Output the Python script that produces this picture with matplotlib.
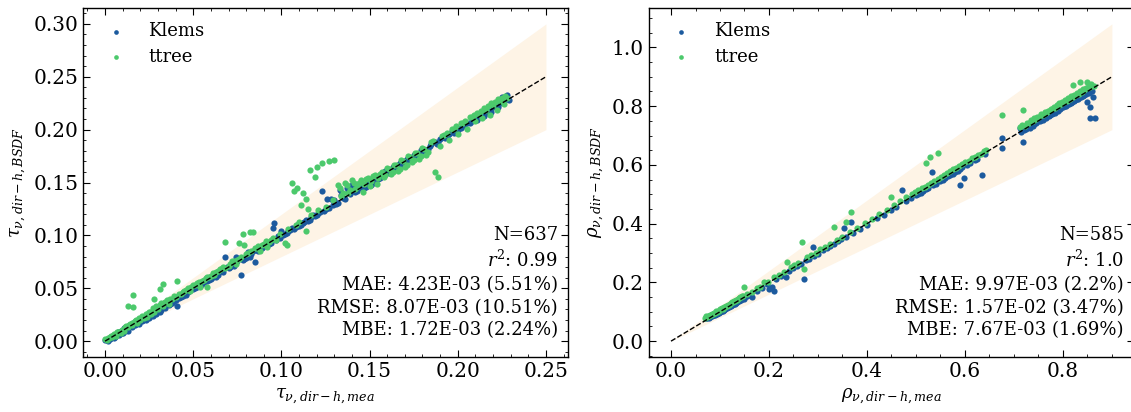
import matplotlib
matplotlib.use("Agg")
import matplotlib.pyplot as plt
import numpy as np

# ---- transmittance panel (tau) ----
klems_tau_mea = [0.000, 0.002, 0.003, 0.004, 0.005, 0.006, 0.007, 0.008, 0.009, 0.010,
                 0.011, 0.012, 0.013, 0.014, 0.015, 0.016, 0.017, 0.018, 0.019, 0.020,
                 0.021, 0.022, 0.023, 0.024, 0.025, 0.026, 0.027, 0.028, 0.029, 0.030,
                 0.031, 0.033, 0.034, 0.035, 0.037, 0.039, 0.041, 0.042, 0.044, 0.046,
                 0.048, 0.050, 0.052, 0.054, 0.056, 0.058, 0.060, 0.062, 0.064, 0.066,
                 0.068, 0.070, 0.072, 0.074, 0.077, 0.078, 0.080, 0.081, 0.083, 0.085,
                 0.086, 0.088, 0.090, 0.092, 0.094, 0.095, 0.096, 0.097, 0.099, 0.100,
                 0.101, 0.103, 0.105, 0.107, 0.109, 0.111, 0.113, 0.115, 0.117, 0.119,
                 0.121, 0.123, 0.124, 0.126, 0.127, 0.128, 0.129, 0.131, 0.133, 0.135,
                 0.137, 0.139, 0.140, 0.142, 0.144, 0.146, 0.148, 0.150, 0.152, 0.154,
                 0.156, 0.158, 0.160, 0.162, 0.164, 0.166, 0.168, 0.170, 0.172, 0.174,
                 0.176, 0.178, 0.180, 0.183, 0.185, 0.188, 0.190, 0.193, 0.195, 0.198,
                 0.200, 0.203, 0.205, 0.208, 0.210, 0.212, 0.214, 0.216, 0.218, 0.220,
                 0.222, 0.224, 0.226, 0.228, 0.225]
klems_tau_bsdf = [0.001, 0.002, 0.002, 0.005, 0.003, 0.006, 0.008, 0.006, 0.010, 0.008,
                  0.012, 0.011, 0.010, 0.015, 0.013, 0.017, 0.015, 0.018, 0.016, 0.021,
                  0.019, 0.023, 0.020, 0.025, 0.022, 0.027, 0.024, 0.029, 0.026, 0.031,
                  0.028, 0.034, 0.031, 0.036, 0.035, 0.038, 0.033, 0.041, 0.043, 0.044,
                  0.048, 0.049, 0.051, 0.052, 0.056, 0.057, 0.059, 0.062, 0.063, 0.066,
                  0.080, 0.069, 0.074, 0.080, 0.063, 0.077, 0.079, 0.084, 0.082, 0.075,
                  0.086, 0.087, 0.090, 0.091, 0.093, 0.107, 0.112, 0.096, 0.098, 0.104,
                  0.100, 0.102, 0.105, 0.106, 0.110, 0.110, 0.113, 0.114, 0.117, 0.118,
                  0.121, 0.142, 0.123, 0.134, 0.126, 0.134, 0.129, 0.130, 0.143, 0.135,
                  0.145, 0.139, 0.148, 0.141, 0.145, 0.147, 0.146, 0.151, 0.150, 0.155,
                  0.154, 0.158, 0.160, 0.162, 0.163, 0.167, 0.168, 0.170, 0.172, 0.173,
                  0.176, 0.177, 0.180, 0.182, 0.186, 0.186, 0.191, 0.192, 0.196, 0.197,
                  0.200, 0.203, 0.206, 0.208, 0.210, 0.212, 0.215, 0.216, 0.218, 0.221,
                  0.222, 0.225, 0.227, 0.233, 0.231]
klems_tau_mea_2 = [0.0015, 0.0035, 0.0055, 0.0075, 0.0095, 0.0115, 0.0135, 0.0155, 0.0175, 0.0195,
                   0.0215, 0.0235, 0.0255, 0.0275, 0.0295, 0.032, 0.036, 0.038, 0.040,
                   0.043, 0.045, 0.047, 0.049, 0.051, 0.053, 0.055, 0.057, 0.059, 0.061,
                   0.063, 0.065, 0.067, 0.069, 0.071, 0.073, 0.075,
                   0.079, 0.082, 0.084, 0.087, 0.089, 0.091, 0.093, 0.098,
                   0.102, 0.104, 0.106, 0.108, 0.110, 0.112, 0.114, 0.116, 0.118, 0.120, 0.122,
                   0.125, 0.130, 0.132, 0.134, 0.136, 0.138,
                   0.141, 0.143, 0.145, 0.147, 0.149, 0.151, 0.153, 0.155, 0.157, 0.159,
                   0.161, 0.163, 0.165, 0.167, 0.169, 0.171, 0.173, 0.175, 0.177, 0.179, 0.181,
                   0.184, 0.187, 0.189, 0.192, 0.194, 0.197, 0.199, 0.202, 0.204, 0.207, 0.209,
                   0.211, 0.213, 0.215, 0.217, 0.219, 0.221, 0.223, 0.227, 0.229]
klems_tau_bsdf_2 = [0.0005, 0.004, 0.004, 0.009, 0.008, 0.010, 0.014, 0.014, 0.016, 0.019,
                    0.020, 0.022, 0.024, 0.026, 0.028, 0.029, 0.034, 0.036, 0.039,
                    0.042, 0.045, 0.046, 0.050, 0.050, 0.054, 0.054, 0.058, 0.058, 0.061,
                    0.061, 0.066, 0.065, 0.070, 0.070, 0.071, 0.076,
                    0.078, 0.080, 0.085, 0.085, 0.088, 0.092, 0.092, 0.099,
                    0.101, 0.104, 0.107, 0.108, 0.109, 0.112, 0.115, 0.115, 0.119, 0.119, 0.122,
                    0.125, 0.133, 0.131, 0.138, 0.134, 0.141,
                    0.143, 0.142, 0.147, 0.145, 0.150, 0.148, 0.154, 0.153, 0.157, 0.161,
                    0.159, 0.165, 0.163, 0.168, 0.167, 0.172, 0.171, 0.176, 0.175, 0.181, 0.180,
                    0.185, 0.188, 0.188, 0.193, 0.193, 0.199, 0.198, 0.202, 0.205, 0.206, 0.211,
                    0.209, 0.214, 0.213, 0.218, 0.217, 0.222, 0.221, 0.230, 0.228]

ttree_tau_mea = [0.000, 0.001, 0.002, 0.003, 0.004, 0.005, 0.006, 0.007, 0.008, 0.009,
                 0.010, 0.011, 0.012, 0.013, 0.013, 0.014, 0.015, 0.016, 0.016, 0.017,
                 0.018, 0.019, 0.020, 0.021, 0.022, 0.023, 0.024, 0.025, 0.026, 0.027,
                 0.028, 0.028, 0.029, 0.030, 0.031, 0.031, 0.032, 0.033, 0.033, 0.034,
                 0.035, 0.036, 0.038, 0.040, 0.041, 0.042, 0.044, 0.046, 0.048, 0.050,
                 0.052, 0.054, 0.056, 0.058, 0.058, 0.060, 0.062, 0.064, 0.066, 0.068,
                 0.068, 0.070, 0.072, 0.074, 0.076, 0.076, 0.078, 0.079, 0.080, 0.082,
                 0.083, 0.084, 0.086, 0.088, 0.090, 0.092, 0.094, 0.097, 0.099, 0.102,
                 0.103, 0.104, 0.106, 0.107, 0.108, 0.109, 0.110, 0.111, 0.112, 0.114,
                 0.114, 0.115, 0.116, 0.117, 0.119, 0.120, 0.121, 0.123, 0.125, 0.127,
                 0.129, 0.130, 0.132, 0.134, 0.136, 0.138, 0.140, 0.142, 0.144, 0.146,
                 0.148, 0.150, 0.152, 0.154, 0.156, 0.158, 0.160, 0.162, 0.164, 0.166,
                 0.168, 0.170, 0.172, 0.174, 0.176, 0.178, 0.180, 0.182, 0.185, 0.187,
                 0.189, 0.190, 0.192, 0.195, 0.198, 0.200, 0.203, 0.205, 0.208, 0.210,
                 0.212, 0.214, 0.216, 0.218, 0.220, 0.222, 0.224, 0.226, 0.228]
ttree_tau_bsdf = [0.002, 0.001, 0.003, 0.004, 0.004, 0.007, 0.005, 0.009, 0.009, 0.008,
                  0.011, 0.010, 0.014, 0.033, 0.013, 0.016, 0.015, 0.044, 0.032, 0.019,
                  0.017, 0.021, 0.020, 0.024, 0.022, 0.026, 0.023, 0.028, 0.026, 0.031,
                  0.040, 0.028, 0.033, 0.030, 0.049, 0.034, 0.036, 0.054, 0.033, 0.037,
                  0.039, 0.035, 0.040, 0.042, 0.057, 0.045, 0.046, 0.048, 0.047, 0.053,
                  0.055, 0.051, 0.058, 0.051, 0.061, 0.062, 0.063, 0.066, 0.068, 0.094,
                  0.069, 0.071, 0.076, 0.073, 0.093, 0.078, 0.101, 0.091, 0.082, 0.103,
                  0.085, 0.103, 0.088, 0.085, 0.092, 0.089, 0.096, 0.096, 0.101, 0.093,
                  0.091, 0.106, 0.150, 0.142, 0.110, 0.145, 0.113, 0.129, 0.140, 0.134,
                  0.104, 0.125, 0.162, 0.119, 0.155, 0.165, 0.124, 0.168, 0.127, 0.170,
                  0.133, 0.171, 0.148, 0.137, 0.150, 0.140, 0.152, 0.144, 0.150, 0.141,
                  0.153, 0.147, 0.156, 0.149, 0.158, 0.155, 0.164, 0.158, 0.167, 0.161,
                  0.171, 0.165, 0.175, 0.169, 0.178, 0.172, 0.183, 0.176, 0.188, 0.160,
                  0.155, 0.185, 0.195, 0.190, 0.201, 0.196, 0.206, 0.201, 0.212, 0.208,
                  0.215, 0.211, 0.219, 0.214, 0.223, 0.219, 0.227, 0.224, 0.230]
ttree_tau_mea_2 = [0.0015, 0.0035, 0.0055, 0.0075, 0.0095, 0.0115, 0.0135, 0.0155, 0.0175, 0.0195,
                   0.0215, 0.0235, 0.0255, 0.0275, 0.0295, 0.0315, 0.0335, 0.0355, 0.037, 0.039,
                   0.043, 0.045, 0.047, 0.049, 0.051, 0.053, 0.055, 0.057, 0.059, 0.061,
                   0.063, 0.065, 0.067, 0.071, 0.073, 0.075, 0.077, 0.081,
                   0.085, 0.087, 0.089, 0.091, 0.093, 0.095,
                   0.133, 0.135, 0.137, 0.139, 0.141, 0.143, 0.145, 0.147, 0.149, 0.151,
                   0.153, 0.155, 0.157, 0.159, 0.161, 0.163, 0.165, 0.167, 0.169, 0.171,
                   0.173, 0.175, 0.177, 0.179, 0.181, 0.183,
                   0.186, 0.191, 0.194, 0.197, 0.199, 0.202, 0.204, 0.207, 0.209,
                   0.211, 0.213, 0.215, 0.217, 0.219, 0.221, 0.223, 0.225, 0.227]
ttree_tau_bsdf_2 = [0.003, 0.005, 0.006, 0.009, 0.011, 0.013, 0.015, 0.017, 0.020, 0.022,
                    0.023, 0.026, 0.028, 0.030, 0.032, 0.035, 0.036, 0.038, 0.040, 0.043,
                    0.045, 0.047, 0.050, 0.051, 0.053, 0.056, 0.057, 0.060, 0.061, 0.064,
                    0.065, 0.068, 0.070, 0.073, 0.076, 0.077, 0.080, 0.083,
                    0.088, 0.090, 0.091, 0.095, 0.094, 0.098,
                    0.145, 0.140, 0.148, 0.143, 0.150, 0.146, 0.152, 0.149, 0.154, 0.151,
                    0.157, 0.154, 0.160, 0.157, 0.163, 0.160, 0.167, 0.163, 0.170, 0.167,
                    0.174, 0.171, 0.178, 0.175, 0.182, 0.179,
                    0.189, 0.194, 0.197, 0.201, 0.203, 0.206, 0.208, 0.212, 0.214,
                    0.216, 0.218, 0.220, 0.222, 0.225, 0.226, 0.229, 0.230, 0.232]

# ---- reflectance panel (rho) ----
klems_rho_mea = [0.072, 0.076, 0.080, 0.084, 0.088, 0.092, 0.096, 0.100, 0.104, 0.108,
                 0.112, 0.116, 0.120, 0.124, 0.128, 0.132, 0.136, 0.140, 0.145, 0.150,
                 0.156, 0.166, 0.175, 0.185, 0.195, 0.200, 0.207, 0.211, 0.215, 0.225,
                 0.235, 0.240, 0.250, 0.258, 0.265, 0.272, 0.275, 0.282, 0.289, 0.292,
                 0.300, 0.310, 0.318, 0.325, 0.333, 0.340, 0.348, 0.354, 0.358, 0.368,
                 0.372, 0.385, 0.400, 0.420, 0.435, 0.450, 0.460, 0.472, 0.480, 0.490,
                 0.500, 0.510, 0.520, 0.532, 0.535, 0.548, 0.550, 0.560, 0.570, 0.580,
                 0.589, 0.590, 0.599, 0.605, 0.620, 0.634, 0.640, 0.675, 0.675, 0.712,
                 0.718, 0.720, 0.728, 0.735, 0.742, 0.750, 0.756, 0.762, 0.768, 0.774,
                 0.780, 0.786, 0.792, 0.798, 0.804, 0.810, 0.816, 0.822, 0.828, 0.834,
                 0.840, 0.846, 0.849, 0.852, 0.855, 0.855, 0.861, 0.865, 0.858, 0.860]
klems_rho_bsdf = [0.078, 0.082, 0.083, 0.086, 0.090, 0.092, 0.097, 0.099, 0.104, 0.107,
                  0.113, 0.115, 0.121, 0.122, 0.128, 0.131, 0.137, 0.139, 0.146, 0.148,
                  0.155, 0.149, 0.172, 0.182, 0.193, 0.176, 0.186, 0.170, 0.210, 0.222,
                  0.220, 0.238, 0.250, 0.255, 0.262, 0.210, 0.275, 0.280, 0.322, 0.289,
                  0.298, 0.309, 0.316, 0.324, 0.332, 0.340, 0.347, 0.386, 0.355, 0.407,
                  0.368, 0.383, 0.397, 0.418, 0.430, 0.446, 0.455, 0.515, 0.476, 0.486,
                  0.497, 0.505, 0.518, 0.576, 0.530, 0.549, 0.546, 0.557, 0.566, 0.575,
                  0.532, 0.586, 0.556, 0.600, 0.616, 0.566, 0.636, 0.690, 0.657, 0.725,
                  0.678, 0.718, 0.730, 0.735, 0.738, 0.748, 0.752, 0.760, 0.766, 0.771,
                  0.778, 0.783, 0.789, 0.796, 0.800, 0.806, 0.812, 0.818, 0.824, 0.830,
                  0.836, 0.842, 0.814, 0.848, 0.797, 0.759, 0.831, 0.759, 0.852, 0.850]
klems_rho_mea_2 = [0.074, 0.078, 0.082, 0.086, 0.090, 0.094, 0.098, 0.102, 0.106, 0.110,
                   0.114, 0.118, 0.122, 0.126, 0.130, 0.134, 0.138, 0.143, 0.148,
                   0.505, 0.515, 0.525, 0.540, 0.555, 0.565, 0.575, 0.585, 0.595, 0.610, 0.625,
                   0.715, 0.725, 0.732, 0.738, 0.745, 0.753, 0.759, 0.765, 0.771, 0.777,
                   0.783, 0.789, 0.795, 0.801, 0.807, 0.813, 0.819, 0.825, 0.831, 0.837,
                   0.843, 0.848, 0.853]
klems_rho_bsdf_2 = [0.079, 0.080, 0.084, 0.088, 0.089, 0.094, 0.096, 0.101, 0.104, 0.109,
                    0.112, 0.117, 0.120, 0.125, 0.128, 0.133, 0.136, 0.141, 0.145,
                    0.500, 0.512, 0.520, 0.535, 0.550, 0.562, 0.570, 0.580, 0.592, 0.605, 0.620,
                    0.712, 0.722, 0.727, 0.733, 0.741, 0.748, 0.754, 0.760, 0.766, 0.772,
                    0.778, 0.784, 0.790, 0.796, 0.802, 0.808, 0.814, 0.820, 0.826, 0.832,
                    0.838, 0.843, 0.846]

ttree_rho_mea = [0.070, 0.074, 0.078, 0.082, 0.086, 0.090, 0.094, 0.098, 0.102, 0.106,
                 0.110, 0.114, 0.118, 0.122, 0.126, 0.130, 0.134, 0.138, 0.142, 0.146,
                 0.149, 0.155, 0.165, 0.175, 0.182, 0.190, 0.198, 0.211, 0.220, 0.230,
                 0.237, 0.245, 0.252, 0.260, 0.268, 0.272, 0.278, 0.285, 0.295, 0.305,
                 0.315, 0.325, 0.333, 0.338, 0.350, 0.358, 0.365, 0.368, 0.380, 0.395,
                 0.410, 0.425, 0.440, 0.450, 0.455, 0.468, 0.480, 0.492, 0.505, 0.518,
                 0.521, 0.528, 0.530, 0.544, 0.545, 0.558, 0.570, 0.582, 0.595, 0.608,
                 0.620, 0.632, 0.644, 0.675, 0.712, 0.718, 0.722, 0.730, 0.738, 0.745,
                 0.752, 0.760, 0.766, 0.772, 0.778, 0.784, 0.790, 0.796, 0.802, 0.808,
                 0.814, 0.820, 0.820, 0.826, 0.832, 0.834, 0.838, 0.844, 0.849, 0.850,
                 0.856, 0.860, 0.864]
ttree_rho_bsdf = [0.080, 0.083, 0.086, 0.089, 0.093, 0.096, 0.099, 0.104, 0.108, 0.111,
                  0.116, 0.120, 0.124, 0.129, 0.133, 0.137, 0.141, 0.146, 0.150, 0.155,
                  0.186, 0.160, 0.168, 0.180, 0.186, 0.203, 0.202, 0.220, 0.225, 0.236,
                  0.271, 0.252, 0.258, 0.266, 0.339, 0.244, 0.285, 0.293, 0.300, 0.312,
                  0.322, 0.330, 0.390, 0.345, 0.356, 0.407, 0.372, 0.441, 0.386, 0.402,
                  0.415, 0.433, 0.448, 0.492, 0.463, 0.476, 0.489, 0.500, 0.513, 0.525,
                  0.607, 0.627, 0.538, 0.640, 0.552, 0.566, 0.578, 0.590, 0.602, 0.614,
                  0.627, 0.638, 0.651, 0.770, 0.729, 0.786, 0.731, 0.742, 0.748, 0.756,
                  0.762, 0.770, 0.776, 0.782, 0.789, 0.795, 0.801, 0.807, 0.813, 0.819,
                  0.826, 0.871, 0.831, 0.838, 0.843, 0.881, 0.849, 0.855, 0.881, 0.861,
                  0.866, 0.870, 0.868]
ttree_rho_mea_2 = [0.072, 0.076, 0.080, 0.084, 0.088, 0.092, 0.096, 0.100, 0.104, 0.108,
                   0.112, 0.116, 0.120, 0.124, 0.128, 0.132, 0.136, 0.140, 0.144,
                   0.498, 0.512, 0.524, 0.536, 0.552, 0.564, 0.576, 0.588, 0.600, 0.614,
                   0.626, 0.638,
                   0.716, 0.726, 0.734, 0.741, 0.748, 0.756, 0.763, 0.769, 0.775, 0.781,
                   0.787, 0.793, 0.799, 0.805, 0.811, 0.817, 0.823, 0.829, 0.835, 0.841,
                   0.847, 0.853, 0.858]
ttree_rho_bsdf_2 = [0.084, 0.086, 0.090, 0.093, 0.097, 0.101, 0.104, 0.108, 0.112, 0.116,
                    0.120, 0.124, 0.128, 0.133, 0.137, 0.141, 0.145, 0.149, 0.154,
                    0.508, 0.522, 0.533, 0.545, 0.560, 0.573, 0.585, 0.597, 0.609, 0.622,
                    0.634, 0.646,
                    0.736, 0.744, 0.752, 0.758, 0.764, 0.772, 0.779, 0.785, 0.791, 0.797,
                    0.803, 0.809, 0.815, 0.821, 0.827, 0.833, 0.839, 0.845, 0.851, 0.857,
                    0.862, 0.868, 0.874]

stats_tau = ["N=637", "$r^2$: 0.99", "MAE: 4.23E-03 (5.51%)",
             "RMSE: 8.07E-03 (10.51%)", "MBE: 1.72E-03 (2.24%)"]
stats_rho = ["N=585", "$r^2$: 1.0", "MAE: 9.97E-03 (2.2%)",
             "RMSE: 1.57E-02 (3.47%)", "MBE: 7.67E-03 (1.69%)"]

BLUE = "#1c5a9e"
GREEN = "#4cc96c"
BAND = "#fef4e6"

plt.rcParams["font.family"] = "DejaVu Serif"
plt.rcParams["mathtext.fontset"] = "dejavuserif"
plt.rcParams["font.size"] = 13
plt.rcParams["xtick.labelsize"] = 14.5
plt.rcParams["ytick.labelsize"] = 14.5
plt.rcParams["xtick.direction"] = "in"
plt.rcParams["ytick.direction"] = "in"
plt.rcParams["xtick.top"] = True
plt.rcParams["ytick.right"] = True
plt.rcParams["xtick.minor.visible"] = True
plt.rcParams["ytick.minor.visible"] = True
plt.rcParams["xtick.major.size"] = 5
plt.rcParams["ytick.major.size"] = 5
plt.rcParams["xtick.minor.size"] = 2.5
plt.rcParams["ytick.minor.size"] = 2.5
plt.rcParams["axes.linewidth"] = 1.0

fig = plt.figure(figsize=(11.31, 4.12), dpi=100)
ax1 = fig.add_axes([0.0734, 0.1335, 0.4288, 0.847])
ax2 = fig.add_axes([0.5738, 0.1335, 0.4288, 0.847])


def panel(ax, kx, ky, tx, ty, lim, sym, stats):
    line = np.array([0.0, lim])
    ax.fill_between(line, 0.8 * line, 1.2 * line, color=BAND, lw=0, zorder=0)
    ax.scatter(kx, ky, s=20, color=BLUE, lw=0, label="Klems", zorder=2)
    ax.scatter(tx, ty, s=20, color=GREEN, lw=0, label="ttree", zorder=3)
    ax.plot(line, line, color="black", ls="--", lw=1, zorder=4)
    ax.set_xlabel(r"$\%s_{\nu,dir-h,mea}$" % sym)
    ax.set_ylabel(r"$\%s_{\nu,dir-h,BSDF}$" % sym)
    ax.legend(loc="upper left", frameon=False, handletextpad=0.8, markerscale=0.75,
              borderaxespad=0.4, labelspacing=0.4)
    ax.text(0.979, 0.05, "\n".join(stats), transform=ax.transAxes,
            ha="right", va="bottom", linespacing=1.35, zorder=5)


panel(ax1, np.concatenate([klems_tau_mea, klems_tau_mea_2]),
      np.concatenate([klems_tau_bsdf, klems_tau_bsdf_2]),
      np.concatenate([ttree_tau_mea, ttree_tau_mea_2]),
      np.concatenate([ttree_tau_bsdf, ttree_tau_bsdf_2]), 0.25, "tau", stats_tau)
panel(ax2, np.concatenate([klems_rho_mea, klems_rho_mea_2]),
      np.concatenate([klems_rho_bsdf, klems_rho_bsdf_2]),
      np.concatenate([ttree_rho_mea, ttree_rho_mea_2]),
      np.concatenate([ttree_rho_bsdf, ttree_rho_bsdf_2]), 0.9, "rho", stats_rho)

ax1.set_xticks([0.0, 0.05, 0.10, 0.15, 0.20, 0.25])
ax1.set_yticks([0.0, 0.05, 0.10, 0.15, 0.20, 0.25, 0.30])
ax2.set_xticks([0.0, 0.2, 0.4, 0.6, 0.8])
ax2.set_yticks([0.0, 0.2, 0.4, 0.6, 0.8, 1.0])

fig.savefig("out.png", dpi=100)
plt.close(fig)
